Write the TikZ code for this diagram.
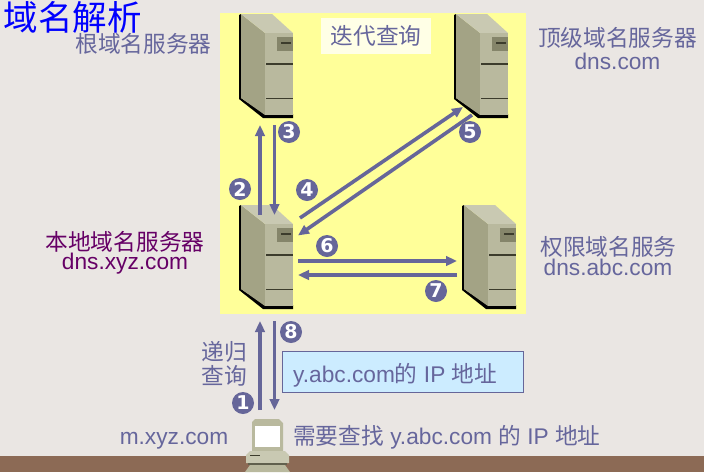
\documentclass[tikz,border=0pt]{standalone}
\usepackage{fontspec}
\setmainfont{Liberation Sans}
\newfontfamily\cjk{Noto Sans CJK SC}
\newfontfamily\numf{DejaVu Sans}
\usetikzlibrary{arrows.meta}
\definecolor{bgc}{HTML}{EAE6E3}
\definecolor{yel}{HTML}{FFFF99}
\definecolor{ink}{HTML}{666699}
\definecolor{lbl}{HTML}{66669C}
\definecolor{pur}{HTML}{660066}
\definecolor{brn}{HTML}{8C6A55}
\definecolor{srvtop}{HTML}{C9C9B2}
\definecolor{srvside}{HTML}{A3A385}
\definecolor{srvfront}{HTML}{B9B99E}
\definecolor{srvpanel}{HTML}{85856A}
\definecolor{srvline}{HTML}{3C3C2C}
\definecolor{boxc}{HTML}{CCECFF}
\definecolor{modec}{HTML}{FFFFE6}
\tikzset{
  x=1pt,y=-1pt,
  lab/.style={inner sep=0pt,text=lbl,font=\fontsize{22.7}{24}\selectfont,align=center},
  labc/.style={lab,font=\fontsize{22.7}{24}\selectfont\cjk},
  num/.style={circle,fill=ink,text=white,inner sep=0pt,minimum size=22pt,font=\fontsize{19}{19}\selectfont\numf\bfseries},
  arw/.style={draw=ink,line width=3.6pt,-{Stealth[inset=0pt,length=11pt,width=9.5pt]}},
  server/.pic={
    \fill[black] (-2,1) -- (0,0) -- (0,84) -- (24,100) -- (52,100) -- (52,104) -- (22,104) -- (-2,85) -- cycle;
    \fill[srvside] (0,0) -- (24,19) -- (24,101) -- (0,84) -- cycle;
    \fill[srvtop] (0,0) -- (31,0) -- (52,19) -- (24,19) -- cycle;
    \fill[srvfront] (24,19) rectangle (52,101);
    \fill[srvpanel] (35.5,23) rectangle (51.5,36.5);
    \draw[srvline,line width=1.3pt] (40,29) -- (50,29);
    \draw[srvline,line width=1.6pt] (25,50) -- (52,50);
    \draw[srvline,line width=1.6pt] (25,84.5) -- (52,84.5);
  }
}
\begin{document}
\begin{tikzpicture}
\useasboundingbox (0,0) rectangle (704,472);
\fill[bgc] (0,0) rectangle (704,472);
\fill[brn] (0,456) rectangle (704,472);
\fill[yel] (220,13) rectangle (526,314);
\node[fill=modec,minimum width=110pt,minimum height=36pt,inner sep=0pt,labc] (mode) at (376,36) {迭代查询};

\pic at (241,14) {server};
\pic at (456,14) {server};
\pic at (241,205) {server};
\pic at (464,205) {server};

% computer
\fill[srvfront] (252,422) -- (255,419) -- (279,419) -- (283,423) -- (283,451) -- (252,451) -- cycle;
\fill[white] (255,426) rectangle (280,447);
\fill[srvtop] (246,455) -- (250,451) -- (285,451) -- (289,455) -- (289,463) -- (246,463) -- cycle;
\draw[srvline,line width=.8pt] (250,455.5) -- (260,455.5);
\fill[srvline!70!srvfront] (248,463) rectangle (287,465);
\fill[srvfront] (245,472) -- (250,465) -- (285,465) -- (290,472) -- cycle;

% anchors of the connectors
\coordinate (r2a) at (260,215); \coordinate (r2b) at (260,125);
\coordinate (r3a) at (274.5,125); \coordinate (r3b) at (274.5,215);
\coordinate (r4a) at (300,218); \coordinate (r4b) at (463,107);
\coordinate (r5a) at (472,115); \coordinate (r5b) at (298,235.5);
\coordinate (r6a) at (298,261); \coordinate (r6b) at (457,261);
\coordinate (r7a) at (457,275); \coordinate (r7b) at (298,275);
\coordinate (r1a) at (260,410); \coordinate (r1b) at (260,321);
\coordinate (r8a) at (274.5,321); \coordinate (r8b) at (274.5,410);
\draw[arw] (r2a) -- (r2b);
\draw[arw] (r3a) -- (r3b);
\draw[arw] (r4a) -- (r4b);
\draw[arw] (r5a) -- (r5b);
\draw[arw] (r6a) -- (r6b);
\draw[arw] (r7a) -- (r7b);
\draw[arw] (r1a) -- (r1b);
\draw[arw] (r8a) -- (r8b);

\node[num] (n1) at (243,403) {1};
\node[num] (n2) at (240,189) {2};
\node[num] (n3) at (289,132) {3};
\node[num] (n4) at (307,190) {4};
\node[num] (n5) at (470,132) {5};
\node[num] (n6) at (327,246) {6};
\node[num] (n7) at (436,291) {7};
\node[num] (n8) at (291,332) {8};

\node[anchor=center,inner sep=0pt,text=blue,font=\fontsize{34.5}{34.5}\selectfont\cjk] (title) at (73,17.5) {域名解析};
\node[labc] (root) at (143.5,44) {根域名服务器};
\node[labc] (tld) at (617.5,38) {顶级域名服务器};
\node[lab] (tldn) at (617.5,61) {dns.com};
\node[labc,text=pur] (local) at (125,242) {本地域名服务器};
\node[lab,text=pur] (localn) at (125,264) {dns.xyz.com};
\node[labc] (auth) at (608.5,247) {权限域名服务};
\node[lab] (authn) at (608,267) {dns.abc.com};
\node[labc] (rec1) at (224,352) {递归};
\node[labc] (rec2) at (224,376) {查询};
\node[lab] (host) at (174,441) {m.xyz.com};
\node[draw=ink,fill=boxc,line width=1pt,minimum width=241pt,minimum height=41pt,inner sep=0pt] (box) at (402.5,371.5) {};
\node[lab,anchor=west] (boxt) at (293,375) {y.abc.com{\cjk 的} IP {\cjk 地址}};
\node[lab,anchor=west] (need) at (293,437) {{\cjk 需要查找} y.abc.com {\cjk 的} IP {\cjk 地址}};
\end{tikzpicture}
\end{document}
